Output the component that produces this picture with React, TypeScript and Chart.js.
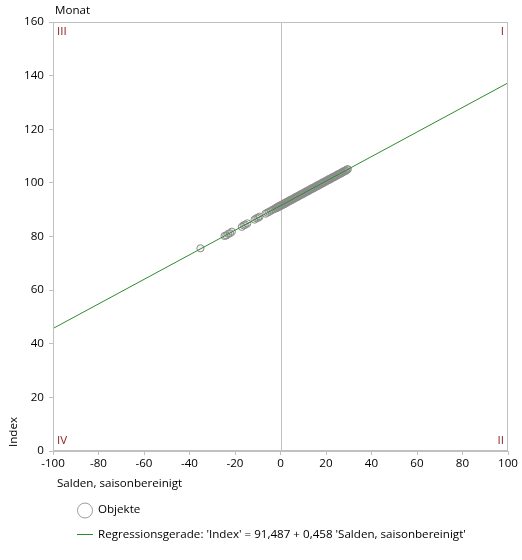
import React, { useEffect, useRef } from "react";
import { Chart, registerables } from "chart.js";

Chart.register(...registerables);

const FONT = "'Open Sans', sans-serif";
const FS = 11.6;

const xValues: number[] = [
  -35.2, -24.6, -23.8, -23.0, -22.2, -21.4, -17.0, -16.2, -15.4, -14.6, -11.4, -10.6,
  -9.8, -9.2, -6.6, -5.8, -5.0, -4.2, -3.4, -2.6,
  -2.0, -1.6, -1.2, -0.8, -0.4, 0.0, 0.4, 0.8, 1.2, 1.6, 2.0, 2.4, 2.8, 3.2, 3.6, 4.0,
  4.4, 4.8, 5.2, 5.6, 6.0, 6.4, 6.8, 7.2, 7.6, 8.0, 8.4, 8.8, 9.2, 9.6, 10.0, 10.4,
  10.8, 11.2, 11.6, 12.0, 12.4, 12.8, 13.2, 13.6, 14.0, 14.4, 14.8, 15.2, 15.6, 16.0,
  16.4, 16.8, 17.2, 17.6, 18.0, 18.4, 18.8, 19.2, 19.6, 20.0, 20.4, 20.8, 21.2, 21.6,
  22.0, 22.4, 22.8, 23.2, 23.6, 24.0, 24.4, 24.8, 25.2, 25.6, 26.0, 26.4, 26.8, 27.2,
  27.6, 28.0, 28.4, 28.8, 29.2, 29.6,
];

const yValues: number[] = [
  75.6, 80.2, 80.4, 81.0, 81.2, 81.8, 83.6, 84.2, 84.4, 84.9, 86.3, 86.8,
  87.0, 87.4, 88.5, 88.9, 89.2, 89.6, 90.0, 90.3,
  90.7, 90.6, 91.1, 91.0, 91.5, 91.3, 91.8, 91.7, 92.2, 92.0, 92.6, 92.4, 92.9, 92.8, 93.3, 93.2,
  93.7, 93.5, 94.0, 93.9, 94.4, 94.3, 94.8, 94.6, 95.1, 95.0, 95.5, 95.4, 95.9, 95.7, 96.2, 96.1,
  96.6, 96.5, 97.0, 96.8, 97.3, 97.2, 97.7, 97.6, 98.1, 97.9, 98.4, 98.3, 98.8, 98.7,
  99.2, 99.0, 99.5, 99.4, 99.9, 99.8, 100.3, 100.1, 100.6, 100.5, 101.0, 100.9, 101.4, 101.2,
  101.7, 101.6, 102.1, 102.0, 102.4, 102.3, 102.8, 102.7, 103.2, 103.1, 103.5, 103.4, 103.9, 103.8,
  104.3, 104.2, 104.6, 104.5, 105.0, 105.1,
];

// Regression line endpoints: 'Index' = 91,487 + 0,458 'Salden, saisonbereinigt'
const regressionX: number[] = [-100, 100];
const regressionY: number[] = [45.687, 137.287];

const xTicks: number[] = [-100, -80, -60, -40, -20, 0, 20, 40, 60, 80, 100];
const yTicks: number[] = [0, 20, 40, 60, 80, 100, 120, 140, 160];

const legendPoints = "Objekte";
const legendLine =
  "Regressionsgerade: 'Index' = 91,487 + 0,458 'Salden, saisonbereinigt'";

const GRAY = "#c0c0c0";
const GREEN = "#2e8b2e";
const QUAD = "#8b2323";

const overlay = {
  id: "overlay",
  beforeDatasetsDraw(chart: any) {
    const { ctx, chartArea: a, scales } = chart;
    ctx.save();
    ctx.strokeStyle = GRAY;
    ctx.lineWidth = 1;
    const x0 = Math.round(scales.x.getPixelForValue(0)) + 0.5;
    ctx.beginPath();
    ctx.moveTo(x0, a.top);
    ctx.lineTo(x0, a.bottom);
    ctx.stroke();
    ctx.restore();
  },
  afterDraw(chart: any) {
    const { ctx, chartArea: a } = chart;
    ctx.save();
    ctx.strokeStyle = GRAY;
    ctx.lineWidth = 1;
    ctx.strokeRect(Math.round(a.left) + 0.5, Math.round(a.top) + 0.5, Math.round(a.right - a.left) - 1, Math.round(a.bottom - a.top) - 1);

    ctx.font = `${FS}px ${FONT}`;
    ctx.textBaseline = "middle";
    ctx.fillStyle = QUAD;
    ctx.textAlign = "left";
    ctx.fillText("III", a.left + 4, a.top + 10);
    ctx.fillText("IV", a.left + 4, a.bottom - 10);
    ctx.textAlign = "right";
    ctx.fillText("I", a.right - 4, a.top + 10);
    ctx.fillText("II", a.right - 4, a.bottom - 10);

    ctx.fillStyle = "#000";
    ctx.textAlign = "left";
    ctx.fillText("Monat", a.left + 2, 11);
    ctx.fillText("Salden, saisonbereinigt", a.left + 4, 484);

    ctx.save();
    ctx.translate(14, a.bottom - 4);
    ctx.rotate(-Math.PI / 2);
    ctx.textAlign = "left";
    ctx.fillText("Index", 0, 0);
    ctx.restore();

    // legend
    ctx.strokeStyle = "#9a9a9a";
    ctx.beginPath();
    ctx.arc(85, 510.5, 7.5, 0, Math.PI * 2);
    ctx.stroke();
    ctx.fillText(legendPoints, 98, 510);

    ctx.strokeStyle = GREEN;
    ctx.beginPath();
    ctx.moveTo(77, 534.5);
    ctx.lineTo(93, 534.5);
    ctx.stroke();
    ctx.fillText(legendLine, 98, 535);
    ctx.restore();
  },
};

export default function App() {
  const ref = useRef<HTMLCanvasElement | null>(null);
  useEffect(() => {
    if (!ref.current) return;
    const chart = new Chart(ref.current, {
      type: "scatter",
      data: {
        datasets: [
          {
            type: "line",
            label: legendLine,
            data: regressionX.map((x, i) => ({ x, y: regressionY[i] })),
            borderColor: GREEN,
            borderWidth: 1,
            pointRadius: 0,
            fill: false,
            order: 0,
          } as any,
          {
            label: legendPoints,
            data: xValues.map((x, i) => ({ x, y: yValues[i] })),
            borderColor: "#8a8a8a",
            backgroundColor: "rgba(150,150,150,0.12)",
            borderWidth: 1,
            pointRadius: 3.6,
            order: 1,
          },
        ],
      },
      options: {
        animation: false,
        responsive: true,
        maintainAspectRatio: false,
        layout: { padding: { left: 0, right: 14, top: 22, bottom: 0 } },
        plugins: { legend: { display: false }, tooltip: { enabled: false } },
        scales: {
          x: {
            type: "linear",
            min: -100,
            max: 100,
            afterBuildTicks: (s: any) => {
              s.ticks = xTicks.map((v) => ({ value: v }));
            },
            afterFit: (s: any) => {
              s.height = 109;
            },
            ticks: { color: "#000", font: { family: FONT, size: FS }, padding: 2, maxRotation: 0 },
            grid: { drawOnChartArea: false, tickLength: 4, color: GRAY },
            border: { color: GRAY },
          },
          y: {
            type: "linear",
            min: 0,
            max: 160,
            afterBuildTicks: (s: any) => {
              s.ticks = yTicks.map((v) => ({ value: v }));
            },
            afterFit: (s: any) => {
              s.width = 53;
            },
            ticks: { color: "#000", font: { family: FONT, size: FS }, padding: 5 },
            grid: { drawOnChartArea: false, tickLength: 4, color: GRAY },
            border: { color: GRAY },
          },
        },
      },
      plugins: [overlay],
    });
    return () => chart.destroy();
  }, []);
  return (
    <div style={{ position: "absolute", left: 0, top: 0, width: 522, height: 560, background: "#fff" }}>
      <canvas ref={ref} />
    </div>
  );
}
